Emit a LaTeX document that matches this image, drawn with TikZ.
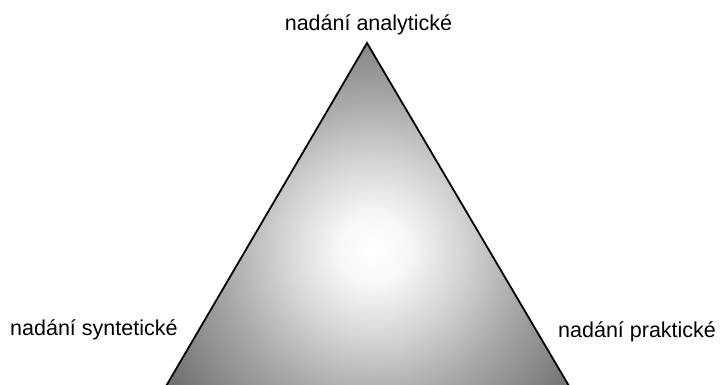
\documentclass[tikz,border=0pt]{standalone}
\usepackage{fontspec}
\setmainfont{Liberation Sans}
\pgfdeclareradialshading{triShade}{\pgfpoint{0bp}{0bp}}{%
  color(0bp)=(white);
  color(35bp)=(black!3);
  color(90bp)=(black!17);
  color(150bp)=(black!34);
  color(207bp)=(black!48);
  color(240bp)=(black!56);
  color(300bp)=(black!62)}
\tikzset{
  lbl/.style={inner sep=0pt, font=\fontsize{21.5}{24}\selectfont, text=black},
  edge/.style={draw=black, line width=1.8pt, line join=miter}
}
\begin{document}
\begin{tikzpicture}[x=1pt,y=-1pt]
\useasboundingbox (0,0) rectangle (720,384);
\fill[white] (0,0) rectangle (720,384);
\clip (0,0) rectangle (720,384);
\coordinate (apex) at (367,43);
\coordinate (bl) at (149.7,414);
\coordinate (br) at (585.5,414);
\begin{scope}
  \clip (apex) -- (bl) -- (br) -- cycle;
  \node[inner sep=0pt] (glow) at (373,250) {\pgfuseshading{triShade}};
\end{scope}
\draw[edge] (bl) -- (apex) -- (br);
\node[lbl, anchor=base] (ana) at (368.5,30) {nadání analytické};
\node[lbl, anchor=base west] (syn) at (10,335) {nadání syntetické};
\node[lbl, anchor=base west] (pra) at (558,337) {nadání praktické};
\end{tikzpicture}
\end{document}
